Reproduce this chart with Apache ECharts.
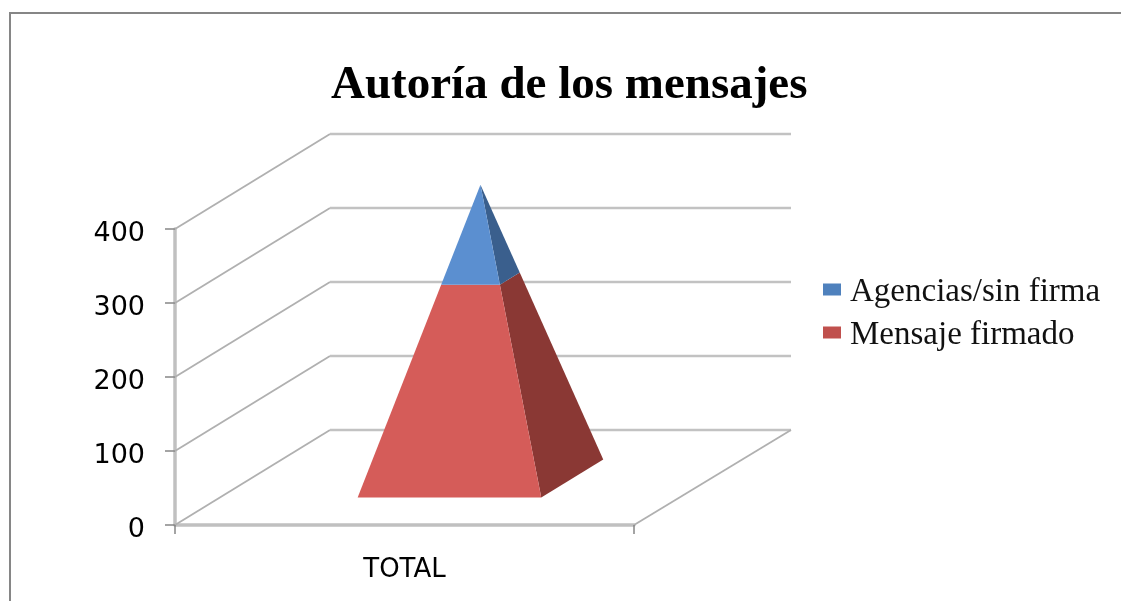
<!DOCTYPE html>
<html>
<head>
<meta charset="utf-8">
<style>html,body{margin:0;padding:0;background:#fff}#c{width:1121px;height:601px}</style>
<script src="https://cdn.jsdelivr.net/npm/echarts@6/dist/echarts.min.js"></script>
</head>
<body>
<div id="c"></div>
<script>
const categories = ['TOTAL'];
const agenciasSinFirma = [127];
const mensajeFirmado = [270];
const yTicks = [0, 100, 200, 300, 400];
const seriesNames = ['Agencias/sin firma', 'Mensaje firmado'];

// 3D look: depth vector of the chart box and pyramid footprint
const depth = { x: 155, y: -95 };
const footprint = { widthRatio: 0.4, center: 0.49, halfDepth: 0.2 };
const wallWidth = 461;
const xTickLength = 9;

function pyramidSlice(front, side, low, high, total) {
  return function (params, api) {
    const band = api.size([1, 0])[0];
    const hw = band * footprint.widthRatio / 2;
    const corner = function (h, su, st) {
      const k = 1 - h / total;
      const c = api.coord([0, h]);
      const t = footprint.center + st * footprint.halfDepth * k;
      return [c[0] + su * hw * k + depth.x * t, c[1] + depth.y * t];
    };
    return {
      type: 'group',
      children: [
        { type: 'polygon',
          shape: { points: [corner(low, 1, -1), corner(low, 1, 1), corner(high, 1, 1), corner(high, 1, -1)] },
          style: { fill: side } },
        { type: 'polygon',
          shape: { points: [corner(low, -1, -1), corner(low, 1, -1), corner(high, 1, -1), corner(high, -1, -1)] },
          style: { fill: front } }
      ]
    };
  };
}

function renderWall(params, api) {
  const v = api.value(1);
  const c = api.coord([0, v]);
  const band = api.size([1, 0])[0];
  const x0 = c[0] - band / 2, y0 = c[1];
  const slope = { stroke: '#B0B0B0', lineWidth: 1.8 };
  const tick = { stroke: '#868686', lineWidth: 1.5 };
  const children = [
    { type: 'line', shape: { x1: x0, y1: y0, x2: x0 + depth.x, y2: y0 + depth.y }, style: slope },
    { type: 'line',
      shape: { x1: x0 + depth.x, y1: y0 + depth.y, x2: x0 + depth.x + wallWidth, y2: y0 + depth.y },
      style: { stroke: '#C2C2C2', lineWidth: 2.6 } }
  ];
  if (v === 0) {
    children.push({ type: 'line',
      shape: { x1: x0 + band, y1: y0, x2: x0 + depth.x + wallWidth, y2: y0 + depth.y }, style: slope });
    children.push({ type: 'line', shape: { x1: x0, y1: y0, x2: x0, y2: y0 + xTickLength }, style: tick });
    children.push({ type: 'line', shape: { x1: x0 + band, y1: y0, x2: x0 + band, y2: y0 + xTickLength }, style: tick });
  }
  return { type: 'group', children: children };
}

const total = mensajeFirmado[0] + agenciasSinFirma[0];

const option = {
  animation: false,
  backgroundColor: '#fff',
  title: {
    text: 'Autoría de los mensajes',
    left: 326, top: 57,
    textStyle: { fontFamily: 'Liberation Serif', fontWeight: 'bold', fontSize: 47, color: '#000' }
  },
  legend: {
    data: seriesNames,
    orient: 'vertical',
    left: 818, top: 271,
    itemWidth: 18, itemHeight: 12, itemGap: 10,
    icon: 'rect',
    formatter: function (name) { return '{t|' + name + '}'; },
    textStyle: {
      rich: { t: { fontFamily: 'Liberation Serif', fontSize: 33, color: '#111', padding: [6, 0, 0, 4] } }
    },
    selectedMode: false
  },
  grid: { left: 175, right: 487, top: 229, bottom: 76 },
  xAxis: {
    type: 'category',
    data: categories,
    axisLine: { lineStyle: { color: '#C0C0C0', width: 3.5 } },
    axisTick: { show: false },
    axisLabel: { fontFamily: 'DejaVu Sans', fontSize: 26, color: '#000', margin: 32 }
  },
  yAxis: {
    type: 'value', min: 0, max: 400, interval: 100,
    splitLine: { show: false },
    axisLine: { show: true, lineStyle: { color: '#C0C0C0', width: 3.5 } },
    axisTick: { show: true, length: 10, lineStyle: { color: '#868686', width: 1.5 } },
    axisLabel: { fontFamily: 'DejaVu Sans', fontSize: 27, color: '#000', margin: 30, verticalAlign: 'top', lineHeight: 10 }
  },
  graphic: [{
    type: 'polyline',
    shape: { points: [[10, 601], [10, 13], [1121, 13]] },
    style: { stroke: '#868686', lineWidth: 2, fill: null },
    silent: true
  }],
  series: [
    { name: 'walls', type: 'custom', coordinateSystem: 'cartesian2d', z: 1,
      data: yTicks.map(function (v) { return [0, v]; }),
      renderItem: renderWall, silent: true },
    { name: seriesNames[1], type: 'custom', coordinateSystem: 'cartesian2d', z: 3,
      itemStyle: { color: '#C0504D' },
      data: [[0, mensajeFirmado[0]]],
      renderItem: pyramidSlice('#D55C59', '#8A3834', 0, mensajeFirmado[0], total), silent: true },
    { name: seriesNames[0], type: 'custom', coordinateSystem: 'cartesian2d', z: 3,
      itemStyle: { color: '#4F81BD' },
      data: [[0, agenciasSinFirma[0]]],
      renderItem: pyramidSlice('#5B8FD0', '#3A5F8D', mensajeFirmado[0], total, total), silent: true }
  ]
};
echarts.init(document.getElementById('c'), null, { renderer: 'canvas' }).setOption(option);
</script>
</body>
</html>
